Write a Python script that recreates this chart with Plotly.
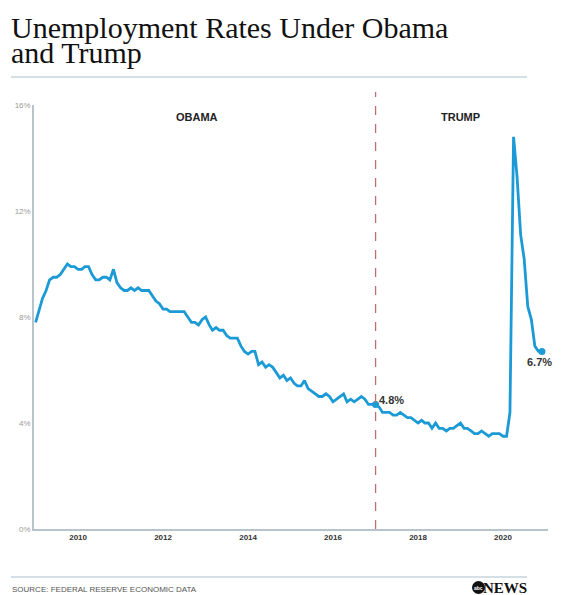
import pandas as pd
import plotly.graph_objects as go

# Monthly unemployment rate (%), Jan 2009 - Dec 2020
rates_2009 = [7.8, 8.3, 8.7, 9.0, 9.4, 9.5, 9.5, 9.6, 9.8, 10.0, 9.9, 9.9]
rates_2010 = [9.8, 9.8, 9.9, 9.9, 9.6, 9.4, 9.4, 9.5, 9.5, 9.4, 9.8, 9.3]
rates_2011 = [9.1, 9.0, 9.0, 9.1, 9.0, 9.1, 9.0, 9.0, 9.0, 8.8, 8.6, 8.5]
rates_2012 = [8.3, 8.3, 8.2, 8.2, 8.2, 8.2, 8.2, 8.0, 7.8, 7.8, 7.7, 7.9]
rates_2013 = [8.0, 7.7, 7.5, 7.6, 7.5, 7.5, 7.3, 7.2, 7.2, 7.2, 6.9, 6.7]
rates_2014 = [6.6, 6.7, 6.7, 6.2, 6.3, 6.1, 6.2, 6.1, 5.9, 5.7, 5.8, 5.6]
rates_2015 = [5.7, 5.5, 5.4, 5.4, 5.6, 5.3, 5.2, 5.1, 5.0, 5.0, 5.1, 5.0]
rates_2016 = [4.8, 4.9, 5.0, 5.1, 4.8, 4.9, 4.8, 4.9, 5.0, 4.9, 4.7, 4.7]
rates_2017 = [4.7, 4.6, 4.4, 4.4, 4.4, 4.3, 4.3, 4.4, 4.3, 4.2, 4.2, 4.1]
rates_2018 = [4.0, 4.1, 4.0, 4.0, 3.8, 4.0, 3.8, 3.8, 3.7, 3.8, 3.8, 3.9]
rates_2019 = [4.0, 3.8, 3.8, 3.7, 3.6, 3.6, 3.7, 3.6, 3.5, 3.6, 3.6, 3.6]
rates_2020 = [3.5, 3.5, 4.4, 14.8, 13.3, 11.1, 10.2, 8.4, 7.9, 6.9, 6.7, 6.7]

rates = (rates_2009 + rates_2010 + rates_2011 + rates_2012 + rates_2013 + rates_2014
         + rates_2015 + rates_2016 + rates_2017 + rates_2018 + rates_2019 + rates_2020)
months = pd.date_range("2009-01-01", periods=len(rates), freq="MS")

x_tick_vals = ["2010-01-01", "2012-01-01", "2014-01-01", "2016-01-01", "2018-01-01", "2020-01-01"]
x_tick_text = ["<b>2010</b>", "<b>2012</b>", "<b>2014</b>", "<b>2016</b>", "<b>2018</b>", "<b>2020</b>"]
y_tick_vals = [0, 4, 8, 12, 16]
y_tick_text = ["0%", "4%", "8%", "12%", "16%"]

divider_date = "2017-01-01"
obama_label_x = "2012-10-20"
trump_label_x = "2019-01-01"
mark_idx = [96, 143]
mark_text = ["4.8%", "6.7%"]

BLUE = "#1c9ad6"

fig = go.Figure()
fig.add_trace(go.Scatter(x=months, y=rates, mode="lines",
                         line=dict(color=BLUE, width=2.8), hoverinfo="skip"))
fig.add_trace(go.Scatter(x=[months[i] for i in mark_idx], y=[rates[i] for i in mark_idx],
                         mode="markers", marker=dict(color=BLUE, size=7), hoverinfo="skip"))

# page body has an 8px margin; work in reference pixel coordinates and shift
OFF = 8
W, H = 561 - OFF, 595 - OFF
L, T = 34 - OFF, 105 - OFF
R = W - (548 - OFF)
B = H - (529 - OFF)
pw, ph = W - L - R, H - T - B


def px(xr):
    return (xr - OFF - L) / pw


def py(yr):
    return (H - B - (yr - OFF)) / ph


fig.update_layout(
    width=W, height=H, showlegend=False,
    margin=dict(l=L, r=R, t=T, b=B, autoexpand=False),
    paper_bgcolor="white", plot_bgcolor="white",
    xaxis=dict(type="date", range=["2008-12-18", "2021-01-22"], automargin=False,
               tickvals=x_tick_vals, ticktext=x_tick_text, showgrid=False,
               showline=True, linecolor="#b8c4cc", linewidth=1.5, zeroline=False,
               ticks="", tickfont=dict(family="Arial", size=8, color="#333333")),
    yaxis=dict(range=[0, 16], tickvals=y_tick_vals, ticktext=y_tick_text, automargin=False,
               showgrid=False, zeroline=False, showline=True, linecolor="#b8c4cc",
               linewidth=1.5, ticks="",
               tickfont=dict(family="Arial", size=8, color="#9a9a9a")),
    shapes=[
        dict(type="line", xref="x", yref="paper", x0=divider_date, x1=divider_date,
             y0=0, y1=py(92), line=dict(color="#b87070", width=1.3, dash="dash")),
        dict(type="line", xref="paper", yref="paper", x0=px(11), x1=px(527),
             y0=py(77), y1=py(77), line=dict(color="#a9c0ca", width=1)),
        dict(type="line", xref="paper", yref="paper", x0=px(11), x1=px(527),
             y0=py(577), y1=py(577), line=dict(color="#a9c0ca", width=1)),
        dict(type="circle", xref="paper", yref="paper", x0=px(472), x1=px(485),
             y0=py(594), y1=py(581), fillcolor="#111111", line=dict(width=0)),
    ],
    annotations=[
        dict(text="Unemployment Rates Under Obama", xref="paper", yref="paper",
             x=px(10), y=py(27), xanchor="left", yanchor="middle", showarrow=False,
             borderpad=0, font=dict(family="Liberation Serif", size=30, color="#111111")),
        dict(text="and Trump", xref="paper", yref="paper",
             x=px(10), y=py(53), xanchor="left", yanchor="middle", showarrow=False,
             borderpad=0, font=dict(family="Liberation Serif", size=30, color="#111111")),
        dict(text="<b>OBAMA</b>", xref="x", yref="paper", x=obama_label_x, y=py(117),
             yanchor="middle", showarrow=False,
             font=dict(family="Arial", size=11, color="#222222")),
        dict(text="<b>TRUMP</b>", xref="x", yref="paper", x=trump_label_x, y=py(117),
             yanchor="middle", showarrow=False,
             font=dict(family="Arial", size=11, color="#222222")),
        dict(text="<b>" + mark_text[0] + "</b>", xref="x", yref="y",
             x=months[mark_idx[0]], y=rates[mark_idx[0]], xanchor="left", yanchor="bottom",
             xshift=1, yshift=-4, showarrow=False,
             font=dict(family="Arial", size=11, color="#333333")),
        dict(text="<b>" + mark_text[1] + "</b>", xref="x", yref="y",
             x=months[mark_idx[1]], y=rates[mark_idx[1]], xanchor="center", yanchor="top",
             xshift=-2, yshift=-3, showarrow=False,
             font=dict(family="Arial", size=11, color="#333333")),
        dict(text="SOURCE: FEDERAL RESERVE ECONOMIC DATA", xref="paper", yref="paper",
             x=px(10), y=py(589), xanchor="left", yanchor="middle", showarrow=False,
             font=dict(family="Arial", size=8, color="#555555")),
        dict(text="<b>abc</b>", xref="paper", yref="paper",
             x=px(478.5), y=py(587.5), xanchor="center", yanchor="middle", showarrow=False,
             borderpad=0, font=dict(family="Arial", size=5, color="white")),
        dict(text="<b>NEWS</b>", xref="paper", yref="paper",
             x=px(528), y=py(588), xanchor="right", yanchor="middle", showarrow=False,
             borderpad=0, font=dict(family="Liberation Serif", size=15, color="#111111")),
    ],
)

fig.write_html("out.html")
